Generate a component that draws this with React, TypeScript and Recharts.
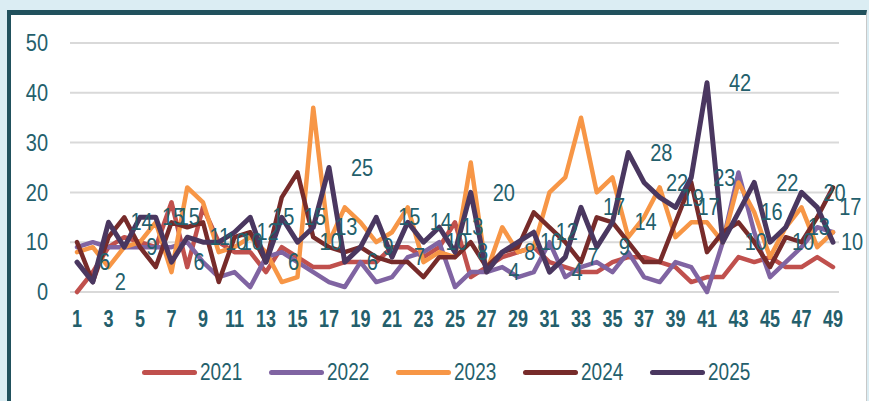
import { LineChart, Line, XAxis, YAxis, CartesianGrid, Legend, LabelList } from 'recharts';

const weeks = Array.from({ length: 49 }, (_, i) => String(i + 1));

const s2021 = [0, 4, 9, 11, 10, 9, 18, 5, 17, 10, 8, 8, 4, 9, 7, 5, 5, 6, 6, 6, 9, 9, 7, 9, 14, 3, 5, 7, 8, 9, 6, 5, 4, 4, 6, 7, 7, 6, 5, 2, 3, 3, 7, 6, 7, 5, 5, 7, 5];
const s2022 = [9, 10, 9, 9, 9, 9, 9, 10, 6, 3, 4, 1, 7, 8, 6, 4, 2, 1, 6, 2, 3, 7, 8, 10, 1, 4, 4, 5, 3, 4, 10, 3, 5, 6, 4, 8, 3, 2, 6, 5, 0, 10, 24, 12, 3, 6, 9, 13, 12];
const s2023 = [8, 9, 5, 9, 10, 14, 4, 21, 18, 8, 9, 11, 8, 2, 3, 37, 10, 17, 14, 10, 12, 17, 6, 8, 7, 26, 4, 13, 8, 9, 20, 23, 35, 20, 23, 11, 15, 21, 11, 14, 14, 10, 22, 16, 7, 13, 17, 9, 12];
const s2024 = [10, 2, 11, 15, 9, 5, 14, 13, 14, 2, 11, 12, 6, 19, 24, 11, 9, 8, 9, 7, 6, 6, 3, 7, 7, 10, 5, 8, 9, 16, 13, 10, 6, 15, 14, 10, 6, 6, 14, 22, 8, 12, 14, 10, 5, 11, 10, 15, 21];
const s2025 = [6, 2, 14, 9, 15, 15, 6, 11, 10, 10, 12, 15, 6, 15, 10, 13, 25, 6, 9, 15, 7, 14, 10, 13, 8, 20, 4, 8, 10, 12, 4, 7, 17, 9, 14, 28, 22, 19, 17, 23, 42, 10, 16, 22, 10, 13, 20, 17, 10];

const yTicks = [0, 10, 20, 30, 40, 50];

const series = [
  { key: '2021', values: s2021, color: '#c0504d', width: 4.5 },
  { key: '2022', values: s2022, color: '#8064a2', width: 4.5 },
  { key: '2023', values: s2023, color: '#f79646', width: 4.5 },
  { key: '2024', values: s2024, color: '#772b2a', width: 4.5 },
  { key: '2025', values: s2025, color: '#4a3760', width: 5 },
];

const data = weeks.map((w, i) => {
  const row: Record<string, string | number> = { week: w };
  series.forEach((s) => {
    row[s.key] = s.values[i];
  });
  return row;
});

const TEAL = '#245f6c';
const FONT = '"Liberation Sans", Arial, sans-serif';

function XTick({ x, y, payload }: any) {
  return (
    <g transform={`translate(${x},${y + 19}) scale(1,1.3)`}>
      <text x={0} y={0} textAnchor="middle" dominantBaseline="central" fill={TEAL} fontSize={18} fontWeight="bold" fontFamily={FONT}>
        {payload.value}
      </text>
    </g>
  );
}

function YTick({ y, payload }: any) {
  return (
    <g transform={`translate(48,${y}) scale(1,1.2)`}>
      <text x={0} y={0} textAnchor="end" dominantBaseline="central" fill={TEAL} fontSize={20} fontFamily={FONT}>
        {payload.value}
      </text>
    </g>
  );
}

// labels sit right of the point; keep the last one inside the frame like Excel does
function PointLabel({ x, y, value }: any) {
  const w = String(value).length * 11;
  const tx = Math.min(x + 22, 863 - w);
  return (
    <g transform={`translate(${tx},${y}) scale(1,1.2)`}>
      <text x={0} y={0} textAnchor="start" dominantBaseline="central" fill={TEAL} fontSize={20} fontFamily={FONT}>
        {value}
      </text>
    </g>
  );
}

function LegendContent({ payload }: any) {
  return (
    <div style={{ display: 'flex', fontFamily: FONT }}>
      {(payload || []).map((p: any) => (
        <div key={p.value} style={{ display: 'flex', alignItems: 'center', width: 127 }}>
          <div style={{ width: 55, height: 5, borderRadius: 3, background: p.color }} />
          <span
            style={{
              display: 'inline-block',
              marginLeft: 3,
              fontSize: 19,
              color: TEAL,
              transform: 'scaleY(1.3)',
              lineHeight: '20px',
            }}
          >
            {p.value}
          </span>
        </div>
      ))}
    </div>
  );
}

export default function App() {
  return (
    <div style={{ position: 'absolute', left: 0, top: 0, width: 869, height: 401, background: '#dbedf3', overflow: 'hidden' }}>
      <div
        style={{
          position: 'absolute',
          left: 7,
          top: 10,
          width: 855,
          height: 420,
          background: '#ffffff',
          borderLeft: '4px solid #21515d',
          borderTop: '5px solid #21515d',
          borderRight: '1px solid #c8c8c8',
        }}
      />
      <div style={{ position: 'absolute', left: 0, top: 0 }}>
        <LineChart width={869} height={401} data={data} margin={{ top: 43, right: 30, bottom: 69, left: 10 }}>
          <CartesianGrid vertical={false} stroke="#d9d9d9" strokeWidth={2} />
          <XAxis
            dataKey="week"
            interval={1}
            padding={{ left: 7, right: 6 }}
            axisLine={false}
            tickLine={false}
            height={40}
            tick={<XTick />}
          />
          <YAxis
            domain={[0, 50]}
            ticks={yTicks}
            width={60}
            axisLine={false}
            tickLine={false}
            tick={<YTick />}
          />
          <Legend
            layout="horizontal"
            verticalAlign="middle"
            align="center"
            wrapperStyle={{ top: 362, left: 142, width: 660 }}
            content={<LegendContent />}
          />
          {series.map((s) => (
            <Line
              key={s.key}
              type="linear"
              dataKey={s.key}
              stroke={s.color}
              strokeWidth={s.width}
              strokeLinejoin="round"
              strokeLinecap="round"
              dot={false}
              activeDot={false}
              isAnimationActive={false}
            >
              {s.key === '2025' ? <LabelList dataKey="2025" content={<PointLabel />} /> : null}
            </Line>
          ))}
        </LineChart>
      </div>
    </div>
  );
}
